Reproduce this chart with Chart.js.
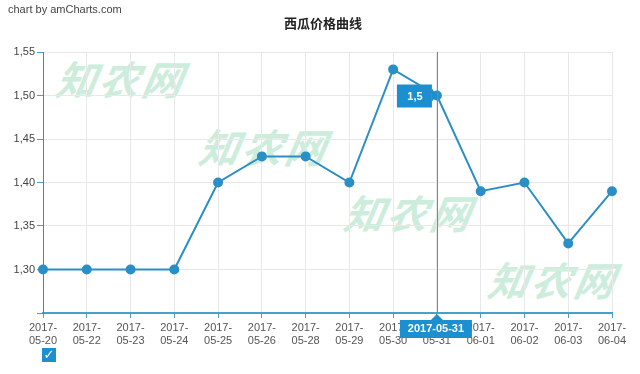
<!DOCTYPE html>
<html>
<head>
<meta charset="utf-8">
<script src="https://cdn.jsdelivr.net/npm/chart.js@4"></script>
<style>
  body { margin: 0; background: #fff; }
  #wrap { position: relative; width: 640px; height: 374px; overflow: hidden; font-family: "Liberation Sans", Arial, sans-serif; }
  #wrap canvas { position: absolute; left: 0; top: 0; }
  .credit { position: absolute; left: 8px; top: 3px; font-size: 11px; color: #444; }
  .title { position: absolute; left: 0; width: 646px; top: 13px; text-align: center; font-size: 13px; font-weight: bold; color: #222; font-family: "Noto Sans CJK SC", sans-serif; }
  .wm { position: absolute; font-family: "Noto Sans CJK SC", sans-serif; font-weight: 700; font-style: italic; font-size: 40px; color: #cdeddc; letter-spacing: 3px; line-height: 1; transform: skewX(-10deg); }
  .check { position: absolute; left: 42px; top: 348px; width: 14px; height: 14px; background: #1c8fd0; color: #fff; font-size: 13px; font-weight: bold; line-height: 14px; text-align: center; font-family: "DejaVu Sans", sans-serif; }
</style>
</head>
<body>
<div id="wrap">
  <div class="wm" style="left:57px;top:58px">知农网</div>
  <div class="wm" style="left:200px;top:126px">知农网</div>
  <div class="wm" style="left:345px;top:192px">知农网</div>
  <div class="wm" style="left:489px;top:259px">知农网</div>
  <canvas id="myChart" width="640" height="374"></canvas>
  <div class="credit">chart by amCharts.com</div>
  <div class="title">西瓜价格曲线</div>
  <div class="check">✓</div>
</div>
<script>
'use strict';
const dates = ['2017-05-20', '2017-05-22', '2017-05-23', '2017-05-24', '2017-05-25', '2017-05-26', '2017-05-28',
  '2017-05-29', '2017-05-30', '2017-05-31', '2017-06-01', '2017-06-02', '2017-06-03', '2017-06-04'];
const prices = [1.30, 1.30, 1.30, 1.30, 1.40, 1.43, 1.43, 1.40, 1.53, 1.50, 1.39, 1.40, 1.33, 1.39];
const yTicks = [1.30, 1.35, 1.40, 1.45, 1.50, 1.55];
const cursorIndex = 9;
const cursorValue = '1,5';

const blue = '#2b8fc6';
const boxBlue = '#1c8fd0';

// cursor line, value balloon and category balloon
const cursorPlugin = {
  id: 'cursor',
  afterDatasetsDraw(chart) {
    const ctx = chart.ctx;
    const area = chart.chartArea;
    const x = chart.scales.x.getPixelForValue(cursorIndex);
    const y = chart.scales.y.getPixelForValue(prices[cursorIndex]);
    ctx.save();
    ctx.strokeStyle = '#3d9ad3';
    ctx.lineWidth = 1;
    ctx.beginPath();
    ctx.moveTo(Math.round(x) + 0.5, area.top);
    ctx.lineTo(Math.round(x) + 0.5, area.bottom);
    ctx.stroke();

    // value balloon
    ctx.fillStyle = boxBlue;
    ctx.fillRect(x - 40, y - 11, 35, 23);
    ctx.beginPath();
    ctx.moveTo(x - 5, y - 7);
    ctx.lineTo(x, y);
    ctx.lineTo(x - 5, y + 6);
    ctx.fill();
    ctx.fillStyle = '#fff';
    ctx.font = 'bold 11px "Liberation Sans", Arial, sans-serif';
    ctx.textAlign = 'center';
    ctx.textBaseline = 'middle';
    ctx.fillText(cursorValue, x - 22, y + 1);

    // category balloon
    ctx.fillStyle = boxBlue;
    ctx.fillRect(x - 37, area.bottom + 7, 72, 18);
    ctx.beginPath();
    ctx.moveTo(x - 6, area.bottom + 7);
    ctx.lineTo(x, area.bottom + 1);
    ctx.lineTo(x + 6, area.bottom + 7);
    ctx.fill();
    ctx.fillStyle = '#fff';
    ctx.fillText(dates[cursorIndex], x - 1, area.bottom + 16);
    ctx.restore();
  }
};

const data = {
  labels: dates.map(d => [d.slice(0, 5), d.slice(5)]),
  datasets: [{
    data: prices,
    borderColor: blue,
    backgroundColor: blue,
    borderWidth: 2,
    pointRadius: 4,
    pointHoverRadius: 4,
    tension: 0
  }]
};

const config = {
  type: 'line',
  data: data,
  plugins: [cursorPlugin],
  options: {
    responsive: false,
    animation: false,
    events: [],
    layout: { padding: { top: 52, right: 28, left: 0, bottom: 0 } },
    plugins: {
      legend: { display: false },
      tooltip: { enabled: false }
    },
    scales: {
      x: {
        offset: false,
        afterFit(scale) { scale.height = 61; },
        grid: {
          color: c => (c.index === 0 ? 'rgba(0,0,0,0)' : '#e8e8e8'),
          tickColor: '#4a9fcf',
          tickLength: 5
        },
        border: { color: '#4a9fcf', width: 2 },
        ticks: {
          autoSkip: false,
          maxRotation: 0,
          padding: 3,
          color: '#555',
          font: { size: 11, family: '"Liberation Sans", Arial, sans-serif', lineHeight: 1.2 }
        }
      },
      y: {
        min: 1.25,
        max: 1.55,
        afterFit(scale) { scale.width = 43; },
        afterBuildTicks(scale) {
          scale.ticks = [1.25].concat(yTicks).map(v => ({ value: v }));
        },
        grid: { color: '#e8e8e8', tickColor: '#4a9fcf', tickLength: 6 },
        border: { color: '#2b8fc6', width: 1, z: 1 },
        ticks: {
          padding: 2,
          color: '#444',
          font: { size: 11, family: '"Liberation Sans", Arial, sans-serif' },
          callback(v) {
            if (Math.abs(v - 1.25) < 1e-6) return '';
            return v.toFixed(2).replace('.', ',');
          }
        }
      }
    }
  }
};

const canvasChart = document.getElementById('myChart');
const myChart = new Chart(canvasChart, config);
</script>
</body>
</html>
